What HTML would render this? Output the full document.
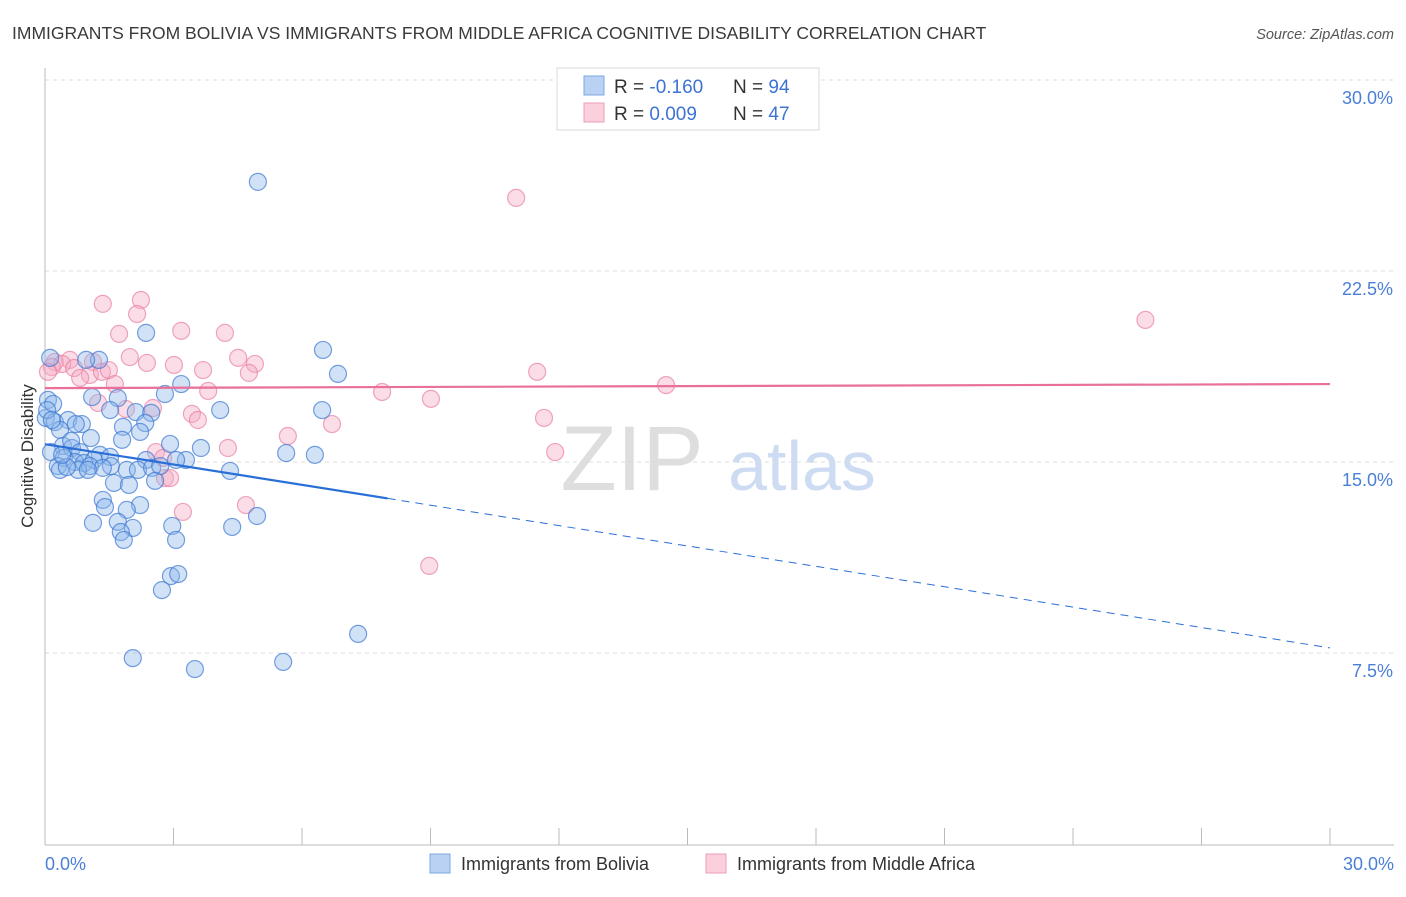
<!DOCTYPE html>
<html><head><meta charset="utf-8"><style>
body{margin:0;background:#fff;font-family:"Liberation Sans",sans-serif}
svg text{font-family:"Liberation Sans",sans-serif}
</style></head><body>
<svg id="chart" width="1406" height="892" viewBox="0 0 1406 892" xmlns="http://www.w3.org/2000/svg">
<text x="12" y="39" font-size="17.5" fill="#3a3a3a">IMMIGRANTS FROM BOLIVIA VS IMMIGRANTS FROM MIDDLE AFRICA COGNITIVE DISABILITY CORRELATION CHART</text>
<text x="1394" y="39" font-size="14.5" fill="#555" font-style="italic" text-anchor="end">Source: ZipAtlas.com</text>
<g>
<text x="632" y="490" font-size="92" fill="#dedede" text-anchor="middle" font-family="Liberation Serif">ZIP</text>
<text x="802" y="490" font-size="70" fill="#cddcf2" text-anchor="middle">atlas</text>
</g>
<g id="grid"></g>
<g id="axes"></g>
<text transform="translate(33,456) rotate(-90)" font-size="17" fill="#333" text-anchor="middle">Cognitive Disability</text>
<g id="pts-pink"></g>
<g id="pts-blue"></g>
<g id="trends"></g>
<g>
<rect x="557" y="68" width="262" height="62" fill="#fff" stroke="#d8d8d8"/>
<rect x="584" y="76" width="20" height="19" fill="#b9d2f3" stroke="#7ea7e0"/>
<rect x="584" y="103" width="20" height="19" fill="#fbcfdc" stroke="#ec9db7"/>
<text x="614" y="93" font-size="19" fill="#333">R = <tspan fill="#3d73d4">-0.160</tspan></text>
<text x="733" y="93" font-size="19" fill="#333">N = <tspan fill="#3d73d4">94</tspan></text>
<text x="614" y="120" font-size="19" fill="#333">R = <tspan fill="#3d73d4"> 0.009</tspan></text>
<text x="733" y="120" font-size="19" fill="#333">N = <tspan fill="#3d73d4">47</tspan></text>
</g>
<g>
<rect x="430" y="854" width="20" height="19" fill="#b9d2f3" stroke="#7ea7e0"/>
<text x="461" y="870" font-size="18" fill="#333">Immigrants from Bolivia</text>
<rect x="706" y="854" width="20" height="19" fill="#fbcfdc" stroke="#ec9db7"/>
<text x="737" y="870" font-size="18" fill="#333">Immigrants from Middle Africa</text>
</g>
</svg>
<script>
const xTicks=[0,3,6,9,12,15,18,21,24,27,30];
const yTicks=[7.5,15,22.5,30];
const yTickLabels=["7.5%","15.0%","22.5%","30.0%"];
const xAxisLabels=["0.0%","30.0%"];
const blueX=[4.97,2.36,6.49,1.26,0.96,6.84,3.18,0.12,2.80,1.70,1.10,0.07,0.19,4.09,1.52,2.12,2.48,6.47,0.02,0.23,0.54,0.86,0.72,1.82,2.34,2.22,0.35,1.07,1.80,2.92,0.42,0.63,0.61,0.14,0.82,1.28,1.52,2.36,3.64,5.63,6.30,0.44,1.14,0.70,0.91,1.05,0.30,1.54,1.35,0.77,1.91,2.17,2.50,2.69,3.29,3.06,4.32,2.57,1.61,1.96,1.35,1.40,2.22,1.91,4.95,1.12,1.70,2.05,2.97,4.37,1.77,1.84,3.06,2.94,3.11,2.73,2.05,3.50,5.56,7.31,0.35,0.51,0.05,0.16,0.40,1.00];
const blueY=[26.0,20.07,19.40,19.01,19.01,18.46,18.06,19.09,17.67,17.51,17.55,17.44,17.28,17.04,17.04,16.96,16.93,17.04,16.73,16.57,16.65,16.49,16.49,16.38,16.53,16.18,16.26,15.94,15.87,15.71,15.63,15.55,15.83,15.39,15.39,15.28,15.20,15.08,15.55,15.35,15.28,15.16,15.08,15.00,14.96,14.84,14.84,14.84,14.77,14.69,14.69,14.69,14.77,14.84,15.08,15.08,14.65,14.26,14.18,14.10,13.51,13.23,13.31,13.12,12.88,12.61,12.65,12.41,12.49,12.45,12.25,11.94,11.94,10.52,10.60,9.97,7.30,6.87,7.15,8.25,14.69,14.80,17.04,16.65,15.28,14.69];
const pinkX=[11.00,25.69,1.35,2.24,2.15,1.73,3.18,4.20,0.58,0.23,0.40,0.16,0.68,1.12,1.05,0.82,1.33,1.98,2.38,3.01,1.49,4.51,4.90,3.69,4.76,1.63,3.81,7.87,11.49,14.50,9.01,1.24,1.89,2.52,3.43,3.57,11.65,6.70,5.67,4.27,11.91,2.59,2.76,2.80,2.92,3.22,4.69,8.97,0.07];
const pinkY=[25.37,20.58,21.21,21.36,20.81,20.03,20.15,20.07,19.01,18.93,18.85,18.73,18.69,18.93,18.42,18.30,18.54,19.12,18.89,18.81,18.61,19.09,18.85,18.61,18.50,18.06,17.79,17.75,18.54,18.02,17.48,17.32,17.08,17.12,16.89,16.65,16.73,16.49,16.02,15.55,15.39,15.39,15.16,14.37,14.37,13.04,13.31,10.92,18.54];
const blueTrendX=[0,8,30];
const blueTrendY=[15.7,13.57,7.7];
const pinkTrendX=[0,30];
const pinkTrendY=[17.9,18.06];
const NS="http://www.w3.org/2000/svg";
const sx=v=>45+v/30*1285;
const sy=v=>844-v/7.5*191;
function mk(tag,attrs,parent){const e=document.createElementNS(NS,tag);for(const k in attrs)e.setAttribute(k,attrs[k]);parent.appendChild(e);return e;}
const grid=document.getElementById('grid'),axes=document.getElementById('axes');
yTicks.forEach((t,i)=>{
 const l=mk('line',{x1:45,x2:1394,y1:sy(t),y2:sy(t),stroke:'#dcdcdc','stroke-dasharray':'4,4'},grid);
 
 
 const tx=mk('text',{x:1393,y:sy(t)+24,'font-size':18,fill:'#4a7fd6','text-anchor':'end'},axes);
 tx.textContent=yTickLabels[i];
 
 
});
const ax=mk('line',{x1:45,x2:45,y1:68,y2:845,stroke:'#bbb'},axes);


const bx=mk('line',{x1:45,x2:1394,y1:845,y2:845,stroke:'#bbb'},axes);


xTicks.forEach(t=>{
 const l=mk('line',{x1:sx(t),x2:sx(t),y1:828,y2:845,stroke:'#bbb'},axes);
 
 
});
const xl0=mk('text',{x:45,y:870,'font-size':18,fill:'#4a7fd6'},axes);
xl0.textContent=xAxisLabels[0];


const xl1=mk('text',{x:1394,y:870,'font-size':18,fill:'#4a7fd6','text-anchor':'end'},axes);
xl1.textContent=xAxisLabels[1];


const gp=document.getElementById('pts-pink');
pinkX.forEach((x,i)=>{
 const c=mk('circle',{cx:sx(x),cy:sy(pinkY[i]),r:8.5,fill:'rgba(246,170,196,0.4)',stroke:'rgba(230,120,160,0.65)','stroke-width':1.2},gp);
 
 
});
const gb=document.getElementById('pts-blue');
blueX.forEach((x,i)=>{
 const c=mk('circle',{cx:sx(x),cy:sy(blueY[i]),r:8.5,fill:'rgba(140,182,236,0.4)',stroke:'rgba(60,120,210,0.7)','stroke-width':1.2},gb);
 
 
});
const tr=document.getElementById('trends');
const pt=mk('line',{x1:sx(pinkTrendX[0]),y1:sy(pinkTrendY[0]),x2:sx(pinkTrendX[1]),y2:sy(pinkTrendY[1]),stroke:'#e8709a','stroke-width':2.2},tr);


const bt=mk('line',{x1:sx(blueTrendX[0]),y1:sy(blueTrendY[0]),x2:sx(blueTrendX[1]),y2:sy(blueTrendY[1]),stroke:'#2a6fd8','stroke-width':2.2},tr);


const bd=mk('line',{x1:sx(blueTrendX[1]),y1:sy(blueTrendY[1]),x2:sx(blueTrendX[2]),y2:sy(blueTrendY[2]),stroke:'#2a6fd8','stroke-width':1,'stroke-dasharray':'8,6'},tr);


</script>
</body></html>
